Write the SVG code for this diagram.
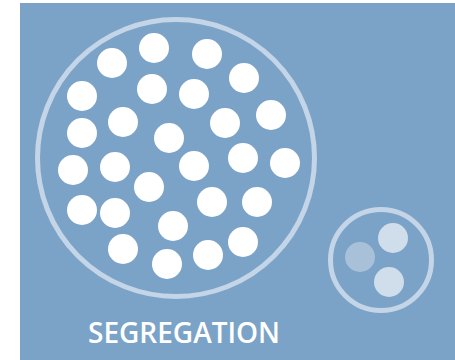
<svg xmlns="http://www.w3.org/2000/svg" width="455" height="360" viewBox="0 0 455 360">
  <style>
    .ring { fill: none; stroke: #c3d5e6; stroke-width: 5; }
    .dot { fill: #ffffff; }
    .dot-light { fill: #d0deeb; }
    .dot-mid { fill: #a8c1d9; }
    .label { font-family: "Open Sans", "Liberation Sans", sans-serif; font-weight: 600; font-size: 28px; fill: #ffffff; }
  </style>
  <rect x="20" y="3" width="435" height="357" fill="#7ba3c8"/>

  <g id="large-group">
    <circle class="ring" cx="176" cy="158" r="138.5"/>
    <circle class="dot" cx="112" cy="63" r="15"/>
    <circle class="dot" cx="154" cy="48" r="15"/>
    <circle class="dot" cx="207" cy="54" r="15"/>
    <circle class="dot" cx="244" cy="78" r="15"/>
    <circle class="dot" cx="82" cy="96" r="15"/>
    <circle class="dot" cx="152" cy="89" r="15"/>
    <circle class="dot" cx="194" cy="94" r="15"/>
    <circle class="dot" cx="271" cy="115" r="15"/>
    <circle class="dot" cx="123" cy="122" r="15"/>
    <circle class="dot" cx="225" cy="123" r="15"/>
    <circle class="dot" cx="82" cy="133" r="15"/>
    <circle class="dot" cx="169" cy="138" r="15"/>
    <circle class="dot" cx="73" cy="170" r="15"/>
    <circle class="dot" cx="115" cy="167" r="15"/>
    <circle class="dot" cx="194" cy="166" r="15"/>
    <circle class="dot" cx="243" cy="158" r="15"/>
    <circle class="dot" cx="285" cy="163" r="15"/>
    <circle class="dot" cx="149" cy="187" r="15"/>
    <circle class="dot" cx="82" cy="210" r="15"/>
    <circle class="dot" cx="115" cy="213" r="15"/>
    <circle class="dot" cx="212" cy="202" r="15"/>
    <circle class="dot" cx="257" cy="202" r="15"/>
    <circle class="dot" cx="173" cy="226" r="15"/>
    <circle class="dot" cx="123" cy="249" r="15"/>
    <circle class="dot" cx="167" cy="264" r="15"/>
    <circle class="dot" cx="208" cy="255" r="15"/>
    <circle class="dot" cx="243" cy="242" r="15"/>
  </g>

  <g id="small-group">
    <circle class="ring" cx="381" cy="260" r="50.5"/>
    <circle class="dot-light" cx="393" cy="238" r="15"/>
    <circle class="dot-mid" cx="360" cy="257" r="15"/>
    <circle class="dot-light" cx="389" cy="282" r="15"/>
  </g>

  <g id="connectors"/>

  <text class="label" x="184" y="343" text-anchor="middle">SEGREGATION</text>
</svg>
